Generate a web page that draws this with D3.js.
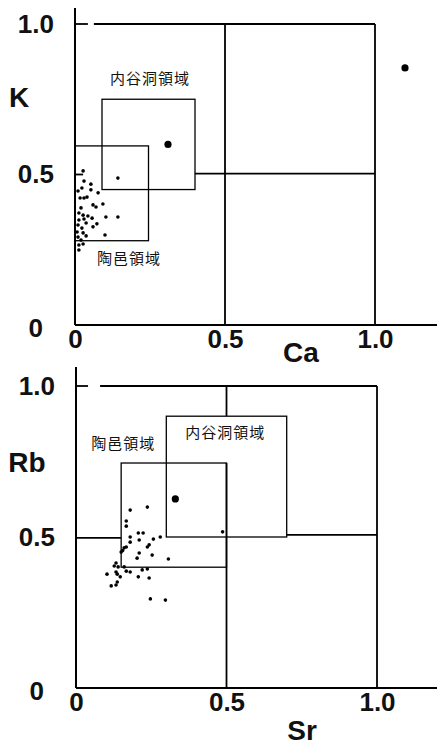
<!DOCTYPE html>
<html>
<head>
<meta charset="utf-8">
<script src="https://cdn.jsdelivr.net/npm/d3@7"></script>
<style>
  body { margin:0; background:#fff; }
  svg { display:block; }
  .tick-lab { font-family:"Liberation Sans", Arial, sans-serif; font-weight:bold; font-size:26px; fill:#111; }
  .axis-name { font-family:"Liberation Sans", Arial, sans-serif; font-weight:bold; font-size:28px; fill:#111; }
  .region-lab { font-family:"Noto Sans CJK JP", sans-serif; font-size:15px; fill:#111; letter-spacing:1px; }
</style>
</head>
<body>
<div id="chart"></div>
<script>
// tick values shared by both panels
var tickValues = [0, 0.5, 1];
var tickLabels = ["0", "0.5", "1.0"];

// Ca - K panel (small dots = 陶邑 samples)
var caK = [
  [0.027,0.512],[0.030,0.478],[0.053,0.468],[0.023,0.455],[0.053,0.449],[0.077,0.439],
  [0.010,0.445],[0.040,0.425],[0.017,0.422],[0.030,0.422],[0.060,0.399],[0.070,0.392],
  [0.093,0.402],[0.143,0.488],[0.020,0.389],[0.013,0.372],[0.027,0.365],[0.043,0.362],
  [0.057,0.355],[0.103,0.359],[0.143,0.359],[0.013,0.349],[0.030,0.352],[0.037,0.339],
  [0.060,0.326],[0.073,0.336],[0.010,0.332],[0.023,0.322],[0.007,0.309],[0.027,0.306],
  [0.010,0.292],[0.037,0.296],[0.100,0.299],[0.020,0.282],[0.013,0.266],[0.027,0.269],
  [0.013,0.249]
];
// large dots
var caKMain = [[0.31,0.60],[1.10,0.854]];
var caKRegions = [
  {name:"内谷洞領域", x:[0.09,0.40], y:[0.45,0.75]},
  {name:"陶邑領域",   x:[0.00,0.245], y:[0.28,0.595]}
];

// Sr - Rb panel
var srRb = [
  [0.180,0.589],[0.237,0.599],[0.167,0.553],[0.167,0.536],[0.207,0.513],[0.223,0.513],
  [0.180,0.500],[0.210,0.490],[0.280,0.500],[0.257,0.493],[0.180,0.483],[0.243,0.474],
  [0.237,0.467],[0.167,0.467],[0.160,0.464],[0.150,0.450],[0.155,0.455],[0.210,0.447],
  [0.253,0.440],[0.203,0.430],[0.307,0.427],[0.133,0.414],[0.140,0.401],[0.127,0.404],
  [0.160,0.401],[0.133,0.384],[0.167,0.387],[0.180,0.384],[0.220,0.391],[0.237,0.394],
  [0.103,0.377],[0.137,0.377],[0.207,0.368],[0.147,0.368],[0.243,0.364],[0.137,0.351],
  [0.117,0.338],[0.133,0.341],[0.247,0.295],[0.297,0.291],[0.487,0.517]
];
var srRbMain = [[0.33,0.626]];
var srRbRegions = [
  {name:"内谷洞領域", x:[0.30,0.70], y:[0.50,0.90]},
  {name:"陶邑領域",   x:[0.15,0.50], y:[0.40,0.745]}
];

var W = 437, H = 746;
var svg = d3.select("#chart").append("svg").attr("width", W).attr("height", H);

var panels = [
  {xName:"Ca", yName:"K", pts:caK, big:caKMain, regions:caKRegions,
   xr:[75,375], yr:[325,24], axisTop:8, nameX:[301,362], nameY:[19,107],
   lines:[[[0,1],[0.043,1]],[[0.063,1],[1,1]],[[0.5,0],[0.5,1]],[[1,0],[1,1]],
          [[0.40,0.503],[1,0.503]],[[0,0.5],[0.027,0.5]]],
   labs:[{anchor:"start", at:"tl", dx:8, dy:-19}, {anchor:"start", at:"bl", dx:22, dy:19}]},
  {xName:"Sr", yName:"Rb", pts:srRb, big:srRbMain, regions:srRbRegions,
   xr:[76,377], yr:[688,386], axisTop:367, nameX:[302,740], nameY:[27,472],
   lines:[[[0,1],[0.04,1]],[[0.08,1],[1,1]],[[0.5,0],[0.5,0.745]],[[0.5,0.9],[0.5,1]],
          [[1,0],[1,1]],[[0.70,0.507],[1,0.507]],[[0,0.497],[0.15,0.497]]],
   labs:[{anchor:"start", at:"tl", dx:19, dy:18}, {anchor:"end", at:"tl", dx:34, dy:-18}]}
];

panels.forEach(function(p){
  var x = d3.scaleLinear().domain([0,1]).range(p.xr);
  var y = d3.scaleLinear().domain([0,1]).range(p.yr);
  var g = svg.append("g");

  // main axis lines
  g.append("line").attr("x1", x(0)).attr("x2", x(0))
    .attr("y1", p.axisTop).attr("y2", y(0))
    .attr("stroke","#000").attr("stroke-width",2);
  g.append("line").attr("x1", x(0)).attr("x2", W)
    .attr("y1", y(0)).attr("y2", y(0))
    .attr("stroke","#000").attr("stroke-width",2);

  // reference lines
  g.selectAll(".ref").data(p.lines).enter().append("line")
    .attr("class","ref")
    .attr("x1", function(d){ return x(d[0][0]); })
    .attr("y1", function(d){ return y(d[0][1]); })
    .attr("x2", function(d){ return x(d[1][0]); })
    .attr("y2", function(d){ return y(d[1][1]); })
    .attr("stroke","#000").attr("stroke-width",1.8);

  // region boxes
  g.selectAll(".box").data(p.regions).enter().append("rect")
    .attr("class","box")
    .attr("x", function(d){ return x(d.x[0]); })
    .attr("y", function(d){ return y(d.y[1]); })
    .attr("width", function(d){ return x(d.x[1]) - x(d.x[0]); })
    .attr("height", function(d){ return y(d.y[0]) - y(d.y[1]); })
    .attr("fill","none").attr("stroke","#000").attr("stroke-width",1.3);

  // region labels
  g.selectAll(".region-lab").data(p.regions).enter().append("text")
    .attr("class","region-lab")
    .attr("text-anchor", function(d,i){ return p.labs[i].anchor; })
    .attr("dominant-baseline","middle")
    .attr("x", function(d,i){ return x(d.x[0]) + p.labs[i].dx; })
    .attr("y", function(d,i){
      var L = p.labs[i];
      return (L.at == "tl" ? y(d.y[1]) : y(d.y[0])) + L.dy;
    })
    .text(function(d){ return d.name; });

  // axes (labels only)
  var xa = g.append("g").attr("transform","translate(0,"+y(0)+")")
    .call(d3.axisBottom(x).tickValues(tickValues).tickSize(0).tickPadding(5)
      .tickFormat(function(d,i){ return tickLabels[i]; }));
  var ya = g.append("g").attr("transform","translate("+x(0)+",0)")
    .call(d3.axisLeft(y).tickValues(tickValues).tickSize(0).tickPadding(21)
      .tickFormat(function(d,i){ return tickLabels[i]; }));
  [xa, ya].forEach(function(a){
    a.select(".domain").remove();
    a.selectAll("text").attr("class","tick-lab").attr("font-size",null).attr("font-family",null);
  });
  ya.selectAll(".tick").filter(function(d){ return d === 0; })
    .select("text").attr("dx", -11).attr("dy", "0.45em");

  // axis names
  g.append("text").attr("class","axis-name").attr("text-anchor","middle")
    .attr("x", p.nameX[0]).attr("y", p.nameX[1]).text(p.xName);
  g.append("text").attr("class","axis-name").attr("text-anchor","middle")
    .attr("x", p.nameY[0]).attr("y", p.nameY[1]).text(p.yName);

  // points
  g.selectAll(".pt").data(p.pts).enter().append("circle")
    .attr("class","pt")
    .attr("cx", function(d){ return x(d[0]); })
    .attr("cy", function(d){ return y(d[1]); })
    .attr("r", 1.8).attr("fill","#000");
  g.selectAll(".big").data(p.big).enter().append("circle")
    .attr("class","big")
    .attr("cx", function(d){ return x(d[0]); })
    .attr("cy", function(d){ return y(d[1]); })
    .attr("r", 3.6).attr("fill","#000");
});
</script>
</body>
</html>
